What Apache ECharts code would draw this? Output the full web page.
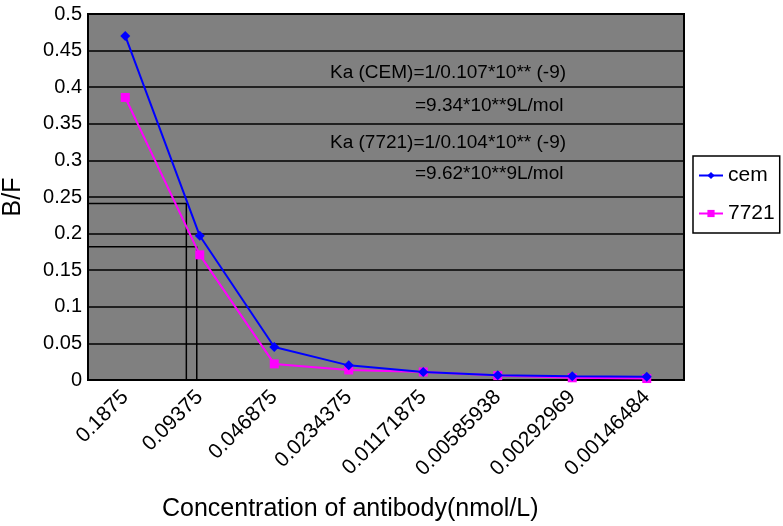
<!DOCTYPE html>
<html>
<head>
<meta charset="utf-8">
<script src="https://cdn.jsdelivr.net/npm/echarts@6/dist/echarts.min.js"></script>
<style>
  html, body { margin: 0; padding: 0; background: #fff; }
  #chart { width: 783px; height: 526px; }
</style>
</head>
<body>
<div id="chart"></div>
<script>
// concentrations (nmol/L)
const categories = ['0.1875', '0.09375', '0.046875', '0.0234375', '0.01171875', '0.00585938', '0.00292969', '0.00146484']
const cemValues = [0.47, 0.197, 0.045, 0.02, 0.011, 0.0065, 0.005, 0.0045]
const s7721Values = [0.386, 0.171, 0.022, 0.0137, 0.011, 0.006, 0.003, 0.002]
const yTicks = { min: 0, max: 0.5, interval: 0.05 }

// drop lines (x in category index units)
const dropLineA = [[-0.5, 0.241], [0.82, 0.241], [0.82, 0]]
const dropLineB = [[-0.5, 0.182], [0.96, 0.182], [0.96, 0]]

const notes = [
  'Ka (CEM)=1/0.107*10** (-9)',
  '=9.34*10**9L/mol',
  'Ka (7721)=1/0.104*10** (-9)',
  '=9.62*10**9L/mol'
]

const font = '"Liberation Sans", Arial, Helvetica, sans-serif'

var myChart = echarts.init(document.getElementById('chart'))

const option = {
  animation: false,
  textStyle: { fontFamily: font },
  grid: {
    left: 88,
    top: 14,
    right: 99,
    bottom: 146,
    containLabel: false,
    outerBoundsMode: 'none',
    show: true,
    backgroundColor: '#808080',
    borderColor: '#000',
    borderWidth: 2
  },
  legend: {
    orient: 'vertical',
    left: 693,
    top: 156,
    backgroundColor: '#fff',
    borderColor: '#000',
    borderWidth: 1.5,
    borderRadius: 0,
    padding: [9, 5, 9, 5],
    itemGap: 17,
    itemWidth: 24,
    itemHeight: 9,
    textStyle: { fontSize: 21, color: '#000', fontFamily: font },
    data: ['cem', '7721']
  },
  xAxis: [
    {
      type: 'category',
      data: categories,
      boundaryGap: true,
      axisLine: { lineStyle: { color: '#000', width: 2 } },
      axisTick: { inside: true, length: 8, lineStyle: { color: '#000', width: 1.5 } },
      axisLabel: { rotate: 45, fontSize: 21, color: '#000', margin: 14, fontFamily: font }
    },
    {
      type: 'value',
      min: -0.5,
      max: 7.5,
      show: false
    }
  ],
  yAxis: {
    type: 'value',
    min: yTicks.min,
    max: yTicks.max,
    interval: yTicks.interval,
    name: 'B/F',
    nameLocation: 'middle',
    nameRotate: 90,
    nameGap: 62,
    nameTextStyle: { fontSize: 25, color: '#000', fontFamily: font },
    axisLine: { show: true, onZero: false, lineStyle: { color: '#000', width: 2 } },
    axisTick: { show: false },
    axisLabel: { fontSize: 20, color: '#000', margin: 6, fontFamily: font },
    splitLine: { lineStyle: { color: '#000', width: 1.5 } }
  },
  graphic: [
    {
      type: 'text', left: 162, top: 497,
      style: { text: 'Concentration of antibody(nmol/L)', font: '25px ' + font, fill: '#000' }
    },
    {
      type: 'text', left: 330, top: 63,
      style: { text: notes[0], font: '19px ' + font, fill: '#000' }
    },
    {
      type: 'text', left: 415, top: 96,
      style: { text: notes[1], font: '19px ' + font, fill: '#000' }
    },
    {
      type: 'text', left: 330, top: 133,
      style: { text: notes[2], font: '19px ' + font, fill: '#000' }
    },
    {
      type: 'text', left: 415, top: 164,
      style: { text: notes[3], font: '19px ' + font, fill: '#000' }
    }
  ],
  series: [
    {
      name: 'ref-a',
      type: 'line',
      xAxisIndex: 1,
      data: dropLineA,
      symbol: 'none',
      silent: true,
      lineStyle: { color: '#000', width: 1.5 },
      z: 3
    },
    {
      name: 'ref-b',
      type: 'line',
      xAxisIndex: 1,
      data: dropLineB,
      symbol: 'none',
      silent: true,
      lineStyle: { color: '#000', width: 1.5 },
      z: 3
    },
    {
      name: 'cem',
      type: 'line',
      data: cemValues,
      symbol: 'diamond',
      symbolSize: 10,
      itemStyle: { color: '#0000ff' },
      lineStyle: { color: '#0000ff', width: 2 },
      z: 5
    },
    {
      name: '7721',
      type: 'line',
      data: s7721Values,
      symbol: 'rect',
      symbolSize: 9,
      itemStyle: { color: '#ff00ff' },
      lineStyle: { color: '#ff00ff', width: 2 },
      z: 4
    }
  ]
}

myChart.setOption(option)
</script>
</body>
</html>
